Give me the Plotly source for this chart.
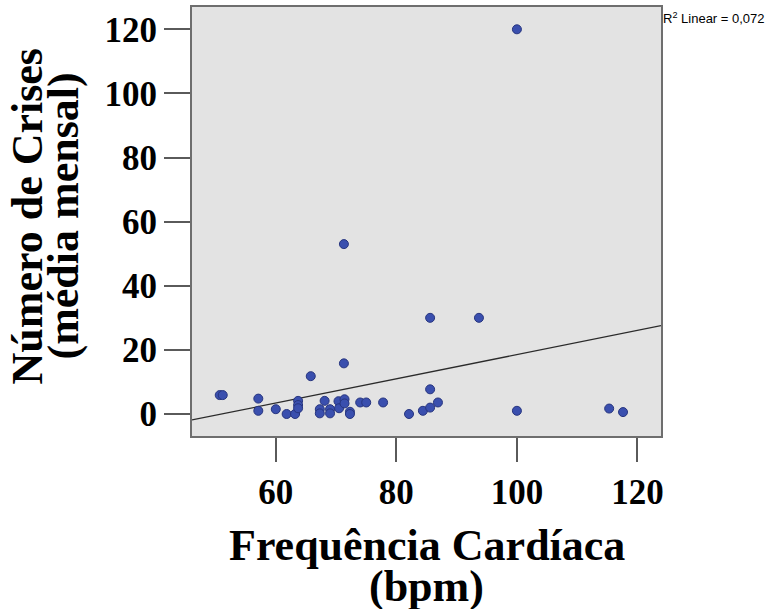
import numpy as np
import plotly.graph_objects as go

# Frequência cardíaca (bpm) and número de crises (média mensal)
freq_cardiaca = [50.7, 51.2, 57.1, 57.1, 60.0, 61.8, 63.2, 63.7, 63.7, 63.7,
                 65.8, 67.3, 67.3, 68.1, 69.0, 69.0, 70.4, 70.5, 71.4, 71.4,
                 71.3, 72.3, 72.3, 74.0, 75.0, 77.8, 82.1, 84.4, 85.6, 85.6,
                 86.9, 85.6, 93.7, 100.0, 115.3, 117.6, 71.3, 100.0]
num_crises = [5.9, 5.9, 4.8, 1.0, 1.5, 0.0, 0.0, 4.1, 2.8, 1.8,
              11.8, 1.5, 0.2, 4.1, 1.5, 0.2, 4.0, 1.8, 4.6, 3.3,
              15.8, 0.7, 0.0, 3.6, 3.6, 3.6, 0.0, 1.0, 7.7, 2.0,
              3.6, 30.0, 30.0, 1.0, 1.7, 0.6, 53.0, 120.0]

x_ticks = [60, 80, 100, 120]
y_ticks = [0, 20, 40, 60, 80, 100, 120]
x_range = [46.1, 123.9]
y_range = [-6.86, 126.96]
x_title = ["Frequência Cardíaca", "(bpm)"]
y_title = ["Número de Crises", "(média mensal)"]
r2_label = "R<sup>2</sup> Linear = 0,072"

x = np.array(freq_cardiaca)
y = np.array(num_crises)
slope, intercept = np.polyfit(x, y, 1)
line_x = np.array(x_range)
line_y = slope * line_x + intercept

serif = "Liberation Serif, Times New Roman, serif"
title_font = dict(family=serif, size=44, color="black", weight="bold")

fig = go.Figure()
fig.add_trace(go.Scatter(
    x=line_x, y=line_y, mode="lines",
    line=dict(color="#2b2b2b", width=1.3),
    hoverinfo="skip", showlegend=False,
))
fig.add_trace(go.Scatter(
    x=freq_cardiaca, y=num_crises, mode="markers",
    marker=dict(size=9, color="#3a4fae", line=dict(color="#27357f", width=1)),
    showlegend=False,
))

axis_common = dict(
    showgrid=False, zeroline=False, showline=True, mirror=True,
    linecolor="#6e6e6e", linewidth=2,
    ticks="outside", tickwidth=1.5, tickcolor="#5a5a5a",
    tickfont=dict(family=serif, size=35, color="black", weight="bold"),
)

annotations = [
    dict(text=x_title[0], xref="paper", yref="paper", x=0.5, y=0,
         xanchor="center", yanchor="middle", yshift=-109, showarrow=False, font=title_font),
    dict(text=x_title[1], xref="paper", yref="paper", x=0.5, y=0,
         xanchor="center", yanchor="middle", yshift=-150, showarrow=False, font=title_font),
    dict(text=y_title[0], xref="paper", yref="paper", x=0, y=0.5,
         xanchor="center", yanchor="middle", xshift=-165, yshift=5,
         textangle=-90, showarrow=False, font=title_font),
    dict(text=y_title[1], xref="paper", yref="paper", x=0, y=0.5,
         xanchor="center", yanchor="middle", xshift=-129, yshift=5,
         textangle=-90, showarrow=False, font=title_font),
    dict(text=r2_label, xref="paper", yref="paper", x=1, y=1,
         xanchor="left", yanchor="middle", xshift=0, yshift=-11, showarrow=False,
         font=dict(family="Liberation Sans, Arial, sans-serif", size=13, color="black")),
]

fig.update_layout(
    width=770, height=609,
    margin=dict(l=192, r=109, t=7, b=173, autoexpand=False),
    paper_bgcolor="white", plot_bgcolor="#e3e3e3",
    xaxis=dict(range=x_range, tickvals=x_ticks, ticklen=24, **axis_common),
    yaxis=dict(range=y_range, tickvals=y_ticks, ticklen=26, **axis_common),
    annotations=annotations,
)

fig.write_html("out.html")
